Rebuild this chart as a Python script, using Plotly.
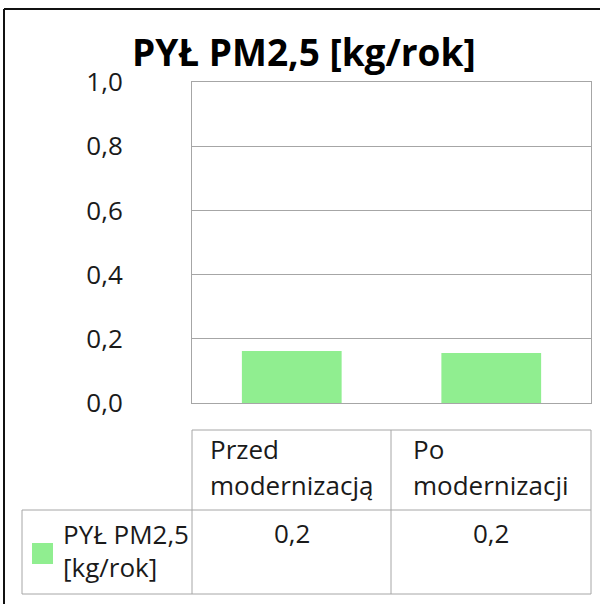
import plotly.graph_objects as go

# ---- data ----
categories = ["Przed modernizacją", "Po modernizacji"]
values = [0.162, 0.156]
series_name = "PYŁ PM2,5 [kg/rok]"
y_ticks = [0.0, 0.2, 0.4, 0.6, 0.8, 1.0]

W, H = 600, 604
GREEN = "#90EE90"
GRID = "#a6a6a6"
FONT = "Open Sans"
TXT = "#1a1a1a"
FS = 26


def px(x):
    return x / W


def py(y):
    return 1 - y / H


# plot area in pixels
PL, PR, PT, PB = 192, 591, 82, 403

fig = go.Figure()
fig.add_trace(go.Bar(
    x=categories, y=values, width=0.5, marker=dict(color=GREEN, line=dict(width=0)),
    name=series_name, showlegend=False, hoverinfo="skip",
))

fig.update_layout(
    width=W, height=H, margin=dict(l=0, r=0, t=0, b=0, pad=0, autoexpand=False),
    paper_bgcolor="white", plot_bgcolor="white",
    separators=", ",
    showlegend=False,
    font=dict(family=FONT, color=TXT, size=FS),
    xaxis=dict(domain=[px(PL), px(PR)], range=[-0.5, 1.5], showticklabels=False,
               showgrid=False, zeroline=False, showline=True, linecolor=GRID,
               linewidth=1, mirror=True, ticks="", fixedrange=True, automargin=False),
    yaxis=dict(domain=[py(PB), py(PT)], range=[0, 1], tickvals=y_ticks,
               tickformat=".1f", showgrid=True, gridcolor=GRID, gridwidth=1,
               zeroline=False, showline=True, linecolor=GRID, linewidth=1,
               mirror=True, ticks="", ticklabelstandoff=63, automargin=False,
               tickfont=dict(size=FS, family=FONT, color=TXT)),
)

shapes = []
# outer black frame (top & left visible)
shapes.append(dict(type="line", xref="paper", yref="paper", x0=px(4), x1=px(602),
                   y0=py(9), y1=py(9), line=dict(color="#111", width=2)))
shapes.append(dict(type="line", xref="paper", yref="paper", x0=px(4), x1=px(4),
                   y0=py(9), y1=py(606), line=dict(color="#111", width=2)))

# data table lines
TL, TM, TR = 192, 391, 591
T0, T1, T2 = 430, 510, 594
RL = 22
for (x0, y0, x1, y1) in [
    (TL, T0, TR, T0), (RL, T1, TR, T1), (RL, T2, TR, T2),
    (TL, T0, TL, T2), (TM, T0, TM, T2), (TR, T0, TR, T2), (RL, T1, RL, T2),
]:
    shapes.append(dict(type="line", xref="paper", yref="paper", x0=px(x0), x1=px(x1),
                       y0=py(y0), y1=py(y1), line=dict(color=GRID, width=1)))
# legend key
shapes.append(dict(type="rect", xref="paper", yref="paper", x0=px(32), x1=px(53),
                   y0=py(543), y1=py(564), fillcolor=GREEN, line=dict(width=0)))
fig.update_layout(shapes=shapes)


def multiline(text, split_at, keep):
    a, b = text.split(split_at, 1)
    parts = [a.strip(), (keep + b).strip()]
    return "<br>".join(f"<span style='font-size:{FS}px'>{p}</span>" for p in parts)


annotations = []
# title
annotations.append(dict(text="<b>" + series_name + "</b>", xref="paper", yref="paper",
                        x=px(304), y=py(51), xanchor="center", yanchor="middle",
                        showarrow=False, font=dict(size=37, family=FONT, color="#000")))
col_centers = [(TL + TM) / 2, (TM + TR) / 2]
for c, cat, v in zip(col_centers, categories, values):
    annotations.append(dict(text=multiline(cat, " ", ""), xref="paper", yref="paper",
                            x=px(c), y=py(467), xanchor="center", yanchor="middle",
                            align="left", showarrow=False,
                            font=dict(size=27.7, family=FONT, color=TXT)))
    annotations.append(dict(text=f"{v:.1f}".replace(".", ","), xref="paper", yref="paper",
                            x=px(c), y=py(533), xanchor="center", yanchor="middle",
                            showarrow=False, font=dict(size=FS, family=FONT, color=TXT)))
# row label
annotations.append(dict(text=multiline(series_name, " [", "["), xref="paper", yref="paper",
                        x=px(61), y=py(550), xanchor="left", yanchor="middle",
                        align="left", showarrow=False,
                        font=dict(size=25.4, family=FONT, color=TXT)))
fig.update_layout(annotations=annotations)

fig.write_html("out.html", config={"displayModeBar": False},
               post_script="document.body.style.margin='0';document.body.style.overflow='hidden';")
